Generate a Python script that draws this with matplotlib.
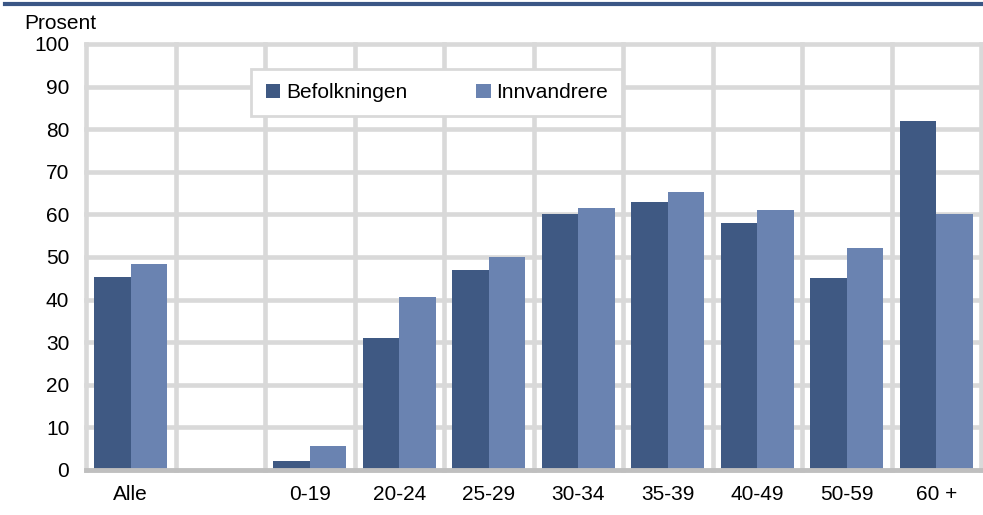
import matplotlib.pyplot as plt
import numpy as np
from matplotlib.lines import Line2D

plt.rcParams['font.family'] = ['Liberation Sans', 'DejaVu Sans']

categories = ["Alle", "", "0-19", "20-24", "25-29", "30-34", "35-39", "40-49", "50-59", "60 +"]
befolkningen = [45.2, np.nan, 2.0, 31.0, 47.0, 60.0, 63.0, 58.0, 45.0, 82.0]
innvandrere = [48.3, np.nan, 5.6, 40.5, 50.0, 61.5, 65.3, 61.0, 52.0, 60.0]
y_ticks = list(range(0, 101, 10))

dark = "#3f5983"
light = "#6a83b1"
grid = "#d9d9d9"

fig = plt.figure(figsize=(9.83, 5.15), dpi=100)
ax = fig.add_axes([0.0875, 0.0874, 0.9105, 0.8272])

x = np.arange(len(categories))
w = 0.41
ax.bar(x - w / 2, befolkningen, width=w, color=dark, label="Befolkningen", zorder=3)
ax.bar(x + w / 2, innvandrere, width=w, color=light, label="Innvandrere", zorder=3)

ax.set_xlim(-0.5, len(categories) - 0.5)
ax.set_ylim(0, 100)

# grid lines
for yv in y_ticks[1:]:
    ax.axhline(yv, color=grid, lw=3.3, zorder=1, clip_on=False)
for xv in np.arange(-0.5, len(categories), 1.0):
    ax.axvline(xv, color=grid, lw=3.3, zorder=1, clip_on=False)
ax.axhline(0, color="#bfbfbf", lw=3.5, zorder=4, clip_on=False)

for s in ax.spines.values():
    s.set_visible(False)

fs = 15
ax.set_yticks(y_ticks)
ax.set_yticklabels([str(v) for v in y_ticks], fontsize=fs)
ax.set_xticks(x)
ax.set_xticklabels(categories, fontsize=fs)
ax.tick_params(axis="both", length=0)
ax.tick_params(axis="x", pad=11)
ax.tick_params(axis="y", pad=12)

fig.text(0.025, 0.955, "Prosent", fontsize=fs, ha="left", va="center")
fig.add_artist(Line2D([0.005, 1.0], [0.993, 0.993], color="#3b5786", lw=3))

leg = ax.legend(loc="upper center", bbox_to_anchor=(0.392, 0.941), ncol=2, fontsize=fs,
                frameon=True, fancybox=False, edgecolor=grid, framealpha=1,
                handlelength=0.7, handleheight=0.7, handletextpad=0.28,
                columnspacing=3.3, borderpad=0.68, borderaxespad=0)
leg.get_frame().set_linewidth(2)
leg.set_zorder(5)

fig.savefig("out.png", dpi=100)
